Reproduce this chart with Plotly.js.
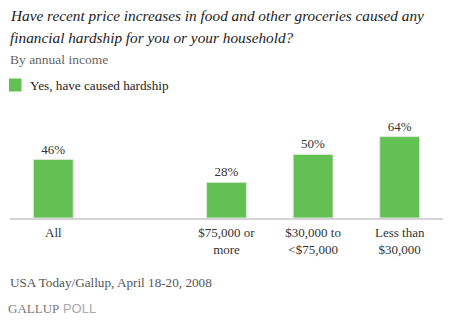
<!DOCTYPE html>
<html>
<head>
<meta charset="utf-8">
<script src="https://cdn.plot.ly/plotly-3.0.1.min.js"></script>
<style>html,body{margin:0;padding:0;background:#fff;}#chart{width:450px;height:325px;}</style>
</head>
<body>
<div id="chart"></div>
<script>
// Data
const categories = ["All", " ", "$75,000 or<br>more", "$30,000 to<br>&lt;$75,000", "Less than<br>$30,000"];
const hardshipValues = [46, null, 28, 50, 64];
const seriesName = "Yes, have caused hardship";
const titleLines = [
  "Have recent price increases in food and other groceries caused any",
  "financial hardship for you or your household?"
];
const subtitle = "By annual income";
const sourceText = "USA Today/Gallup, April 18-20, 2008";

// Layout geometry (pixels)
const W = 450, H = 325;
const mL = 10, mR = 7, mT = 129, mB = 107;
const plotW = W - mL - mR, plotH = H - mT - mB;
const px = x => (x - mL) / plotW;
const py = y => (H - mB - y) / plotH;

const serif = "Georgia, 'Liberation Serif', 'DejaVu Serif', serif";
const green = "#62c152";

const trace = {
  type: "bar",
  x: categories,
  y: hardshipValues,
  name: seriesName,
  marker: { color: green, line: { color: "#d6e8d2", width: 1 } },
  texttemplate: "%{y}%",
  textposition: "outside",
  cliponaxis: false,
  textfont: { family: serif, size: 13, color: "#333" },
  hoverinfo: "none",
  showlegend: false
};

function ann(text, x, y, opts) {
  return Object.assign({
    text: text, xref: "paper", yref: "paper", x: px(x), y: py(y),
    xanchor: "left", yanchor: "middle", showarrow: false,
    font: { family: serif, size: 13, color: "#333" }
  }, opts || {});
}

const layout = {
  width: W, height: H,
  margin: { l: mL, r: mR, t: mT, b: mB, pad: 0 },
  paper_bgcolor: "#fff", plot_bgcolor: "#fff",
  bargap: 0.54,
  showlegend: false,
  font: { family: serif, size: 13, color: "#333" },
  xaxis: {
    type: "category",
    categoryorder: "array", categoryarray: categories,
    range: [-0.5, 4.5],
    showline: true, linecolor: "#d4d4d4", linewidth: 2,
    showgrid: false, zeroline: false, ticks: "",
    ticklabelstandoff: 1,
    tickfont: { family: serif, size: 13, color: "#333" }
  },
  yaxis: {
    range: [0, 70], visible: false, showgrid: false, zeroline: false
  },
  shapes: [
    { type: "rect", xref: "paper", yref: "paper",
      x0: px(9), x1: px(21.5), y0: py(78.5), y1: py(91.5),
      fillcolor: green, line: { width: 0 } }
  ],
  annotations: [
    ann(titleLines[0], 8, 15, { font: { family: serif, size: 15.3, color: "#222", style: "italic" } }),
    ann(titleLines[1], 8, 37, { font: { family: serif, size: 15.3, color: "#222", style: "italic" } }),
    ann(subtitle, 8, 59, { font: { family: serif, size: 13.5, color: "#666" } }),
    ann(seriesName, 28, 85, { font: { family: serif, size: 13.2, color: "#222" } }),
    ann(sourceText, 8, 282, { font: { family: serif, size: 13.2, color: "#555" } }),
    ann("<span style='color:#7a7a7a'>GALLUP</span><span style='font-family:Liberation Sans, Arial, sans-serif;color:#aaaaaa'> POLL</span>", 6, 308,
        { font: { family: serif, size: 13, color: "#7a7a7a" } })
  ]
};

Plotly.newPlot("chart", [trace], layout, { staticPlot: true, displayModeBar: false });
</script>
</body>
</html>
